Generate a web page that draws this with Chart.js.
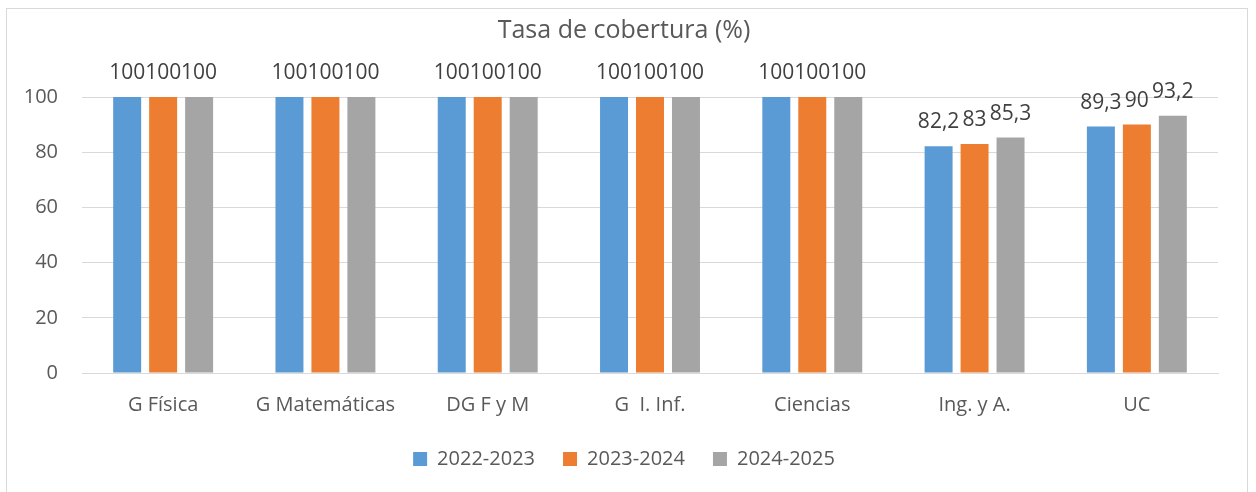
<!DOCTYPE html>
<html>
<head>
<meta charset="utf-8">
<script src="https://cdn.jsdelivr.net/npm/chart.js@4"></script>
<style>
html,body{margin:0;padding:0;background:#fff;}
#wrap{width:1256px;height:492px;position:relative;}
</style>
</head>
<body>
<div id="wrap"><canvas id="c" width="1256" height="492"></canvas></div>
<script>
const categories = ["G Física", "G Matemáticas", "DG F y M", "G  I. Inf.", "Ciencias", "Ing. y A.", "UC"];
const seriesNames = ["2022-2023", "2023-2024", "2024-2025"];
const values2022 = [100, 100, 100, 100, 100, 82.2, 89.3];
const values2023 = [100, 100, 100, 100, 100, 83, 90];
const values2024 = [100, 100, 100, 100, 100, 85.3, 93.2];
const yTicks = [0, 20, 40, 60, 80, 100];
const chartTitle = "Tasa de cobertura (%)";

const colors = ["#5B9BD5", "#ED7D31", "#A5A5A5"];
const FONT = "'Open Sans', sans-serif";

const borderPlugin = {
  id: 'outerBorder',
  beforeDraw(chart) {
    const ctx = chart.ctx;
    ctx.save();
    ctx.strokeStyle = '#d9d9d9';
    ctx.lineWidth = 1;
    ctx.strokeRect(6.5, 8.5, 1241, 520);
    ctx.restore();
  }
};

const labelPlugin = {
  id: 'valueLabels',
  afterDatasetsDraw(chart) {
    const ctx = chart.ctx;
    ctx.save();
    ctx.font = "21px " + FONT;
    ctx.fillStyle = '#404040';
    ctx.textAlign = 'center';
    ctx.textBaseline = 'alphabetic';
    chart.data.datasets.forEach((ds, di) => {
      const meta = chart.getDatasetMeta(di);
      meta.data.forEach((el, i) => {
        const v = ds.data[i];
        const txt = String(v).replace('.', ',');
        ctx.fillText(txt, el.x, el.y - 18);
      });
    });
    ctx.restore();
  }
};

new Chart(document.getElementById('c'), {
  type: 'bar',
  data: {
    labels: categories,
    datasets: [
      { label: seriesNames[0], data: values2022, backgroundColor: colors[0] },
      { label: seriesNames[1], data: values2023, backgroundColor: colors[1] },
      { label: seriesNames[2], data: values2024, backgroundColor: colors[2] }
    ]
  },
  options: {
    responsive: false,
    animation: false,
    devicePixelRatio: 1,
    categoryPercentage: 0.665,
    barPercentage: 0.778,
    layout: { padding: { top: 8, left: 0, right: 8, bottom: 13 } },
    plugins: {
      title: {
        display: true,
        text: chartTitle,
        color: '#595959',
        font: { family: FONT, size: 25, weight: 'normal', lineHeight: 1.2 },
        padding: { top: 8, bottom: 51 }
      },
      legend: {
        position: 'bottom',
        labels: {
          color: '#595959',
          font: { family: FONT, size: 20 },
          boxWidth: 14,
          boxHeight: 14,
          padding: 28
        }
      },
      tooltip: { enabled: false }
    },
    scales: {
      x: {
        grid: { display: false, drawTicks: false, tickLength: 0 },
        border: { display: true, color: '#d9d9d9' },
        ticks: { color: '#595959', font: { family: FONT, size: 20 }, padding: 20, maxRotation: 0, autoSkip: false },
        afterFit(s) { s.height = 48; }
      },
      y: {
        min: 0,
        max: 100,
        afterBuildTicks(s) { s.ticks = yTicks.map(v => ({ value: v })); },
        grid: { color: '#d9d9d9', drawTicks: false, lineWidth: 1 },
        border: { display: false },
        ticks: { color: '#595959', font: { family: FONT, size: 20 }, padding: 24 },
        afterFit(s) { s.width = 82; }
      },
      yR: {
        position: 'right',
        display: true,
        grid: { display: false },
        border: { display: false },
        ticks: { display: false },
        afterFit(s) { s.width = 30; }
      }
    }
  },
  plugins: [borderPlugin, labelPlugin]
});
</script>
</body>
</html>
